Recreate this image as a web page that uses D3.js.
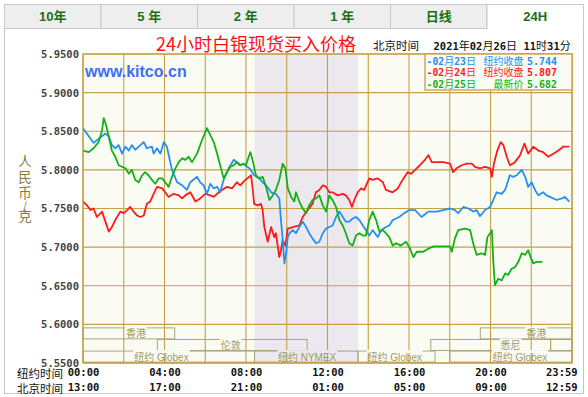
<!DOCTYPE html>
<html>
<head>
<meta charset="utf-8">
<script src="https://cdn.jsdelivr.net/npm/d3@7"></script>
<style>
  body { margin: 0; background: #fff; }
  svg text { white-space: pre; }
</style>
</head>
<body>
<div id="container"></div>
<script>
const tabs = ["10年", "5 年", "2 年", "1 年", "日线", "24H"];
const activeTab = "24H";
const title = "24小时白银现货买入价格";
const clockLabel = "北京时间";
const clockText = "2021年02月26日 11时31分";
const siteName = "www.kitco.cn";
const yTitle = ["人", "民", "币", "/", "克"];
const yTicks = [5.55, 5.6, 5.65, 5.7, 5.75, 5.8, 5.85, 5.9, 5.95];
const tickMinutes = [0, 240, 480, 720, 960, 1200, 1439];
const nyTimes = ["00:00", "04:00", "08:00", "12:00", "16:00", "20:00", "23:59"];
const bjTimes = ["13:00", "17:00", "21:00", "01:00", "05:00", "09:00", "12:59"];
const legendDates = ["-02月23日", "-02月24日", "-02月25日"];
const legendLabels = ["纽约收盘", "纽约收盘", "最新价"];
const legendValues = ["5.744", "5.807", "5.682"];
const nymexShade = [505, 810]; // minutes, NY time

// [minutes after 00:00 New York, price]
const feb23 = [[0,5.854],[31,5.835],[66,5.847],[76,5.843],[85,5.832],[95,5.828],[105,5.832],[115,5.821],[125,5.830],[135,5.825],[144,5.832],[154,5.826],[164,5.830],[179,5.836],[188,5.828],[203,5.830],[208,5.821],[218,5.828],[228,5.821],[238,5.836],[247,5.830],[262,5.800],[277,5.784],[292,5.780],[306,5.774],[316,5.784],[336,5.791],[345,5.784],[355,5.780],[365,5.769],[375,5.782],[385,5.776],[395,5.778],[404,5.771],[414,5.787],[429,5.802],[444,5.813],[453,5.810],[463,5.806],[473,5.808],[483,5.804],[490,5.802],[504,5.793],[519,5.789],[529,5.784],[539,5.780],[554,5.771],[568,5.769],[578,5.763],[583,5.735],[588,5.709],[593,5.679],[598,5.692],[603,5.713],[608,5.718],[618,5.722],[627,5.718],[637,5.726],[647,5.733],[657,5.726],[666,5.718],[676,5.711],[686,5.705],[696,5.707],[706,5.718],[716,5.724],[725,5.726],[735,5.728],[745,5.739],[755,5.746],[765,5.739],[774,5.733],[784,5.733],[794,5.737],[804,5.739],[814,5.735],[824,5.728],[833,5.722],[843,5.715],[853,5.722],[868,5.713],[878,5.722],[892,5.726],[902,5.728],[912,5.735],[922,5.737],[931,5.739],[946,5.744],[961,5.748],[978,5.748],[997,5.739],[1017,5.746],[1042,5.746],[1061,5.748],[1081,5.750],[1095,5.748],[1105,5.744],[1120,5.752],[1135,5.750],[1149,5.746],[1159,5.748],[1169,5.740],[1184,5.748],[1199,5.752],[1208,5.761],[1218,5.771],[1233,5.769],[1243,5.774],[1257,5.793],[1267,5.791],[1277,5.793],[1292,5.800],[1302,5.791],[1311,5.778],[1321,5.784],[1331,5.774],[1341,5.767],[1355,5.771],[1365,5.767],[1375,5.765],[1395,5.761],[1410,5.763],[1419,5.765],[1432,5.759]];
const feb24 = [[0,5.759],[12,5.754],[22,5.748],[31,5.750],[41,5.739],[56,5.746],[66,5.733],[76,5.720],[85,5.726],[95,5.735],[110,5.746],[120,5.744],[130,5.748],[139,5.752],[149,5.746],[159,5.741],[169,5.739],[179,5.741],[188,5.756],[198,5.759],[208,5.769],[218,5.778],[233,5.776],[242,5.771],[252,5.765],[267,5.769],[282,5.767],[292,5.763],[301,5.767],[316,5.771],[331,5.759],[345,5.763],[360,5.769],[375,5.767],[385,5.765],[400,5.771],[409,5.774],[424,5.778],[439,5.776],[453,5.784],[463,5.780],[478,5.787],[490,5.791],[495,5.793],[500,5.774],[504,5.756],[514,5.754],[524,5.756],[529,5.748],[534,5.726],[544,5.707],[554,5.726],[563,5.713],[568,5.718],[578,5.687],[583,5.696],[588,5.709],[596,5.702],[603,5.724],[618,5.726],[637,5.728],[647,5.739],[662,5.748],[676,5.756],[686,5.771],[696,5.774],[706,5.780],[716,5.778],[725,5.771],[735,5.771],[750,5.767],[765,5.769],[774,5.767],[784,5.761],[792,5.752],[799,5.761],[809,5.771],[819,5.776],[828,5.774],[843,5.789],[853,5.787],[868,5.789],[883,5.784],[892,5.774],[912,5.771],[927,5.776],[941,5.787],[956,5.797],[966,5.795],[978,5.800],[992,5.806],[1007,5.813],[1017,5.819],[1027,5.810],[1042,5.810],[1061,5.810],[1081,5.808],[1090,5.797],[1100,5.802],[1115,5.806],[1130,5.808],[1145,5.808],[1154,5.804],[1169,5.802],[1184,5.804],[1199,5.802],[1204,5.791],[1210,5.808],[1220,5.825],[1230,5.836],[1238,5.832],[1248,5.817],[1257,5.806],[1272,5.810],[1287,5.819],[1300,5.834],[1311,5.821],[1326,5.830],[1341,5.825],[1355,5.823],[1370,5.817],[1385,5.821],[1400,5.825],[1414,5.830],[1432,5.830]];
const feb25 = [[0,5.825],[17,5.823],[31,5.828],[46,5.836],[56,5.851],[61,5.867],[68,5.858],[76,5.843],[85,5.825],[95,5.817],[105,5.806],[115,5.804],[125,5.802],[135,5.795],[144,5.800],[154,5.787],[164,5.784],[174,5.793],[183,5.797],[193,5.793],[203,5.787],[213,5.782],[223,5.789],[233,5.789],[242,5.784],[252,5.778],[262,5.791],[272,5.802],[282,5.810],[292,5.815],[301,5.813],[311,5.817],[321,5.810],[336,5.821],[350,5.838],[365,5.854],[375,5.845],[385,5.836],[395,5.821],[404,5.806],[414,5.789],[424,5.797],[434,5.804],[444,5.806],[453,5.810],[463,5.806],[473,5.808],[480,5.806],[488,5.817],[493,5.823],[501,5.810],[509,5.793],[519,5.789],[529,5.791],[539,5.778],[549,5.761],[559,5.767],[568,5.774],[578,5.787],[588,5.808],[596,5.802],[603,5.776],[613,5.765],[622,5.759],[627,5.771],[637,5.759],[647,5.750],[657,5.744],[666,5.754],[676,5.761],[686,5.763],[696,5.767],[706,5.754],[716,5.746],[725,5.767],[735,5.761],[745,5.752],[755,5.735],[765,5.728],[774,5.718],[784,5.705],[794,5.702],[804,5.715],[814,5.718],[824,5.715],[833,5.715],[843,5.735],[853,5.746],[863,5.735],[873,5.720],[883,5.722],[892,5.718],[902,5.713],[912,5.702],[922,5.705],[936,5.702],[951,5.707],[961,5.700],[973,5.687],[983,5.694],[1002,5.694],[1017,5.698],[1032,5.701],[1081,5.701],[1086,5.694],[1095,5.711],[1105,5.722],[1125,5.724],[1140,5.722],[1149,5.705],[1159,5.690],[1174,5.692],[1184,5.690],[1191,5.713],[1199,5.718],[1204,5.722],[1208,5.683],[1213,5.651],[1223,5.659],[1233,5.657],[1243,5.666],[1252,5.664],[1262,5.672],[1272,5.674],[1282,5.681],[1292,5.692],[1302,5.690],[1311,5.696],[1318,5.687],[1326,5.679],[1336,5.681],[1353,5.681]];

const seriesData = [feb24, feb23, feb25];
const seriesColors = ["#ff1a1a", "#2590f2", "#14b014"];

// trading sessions: [name, row, start hour, end hour, label hour]
const sessions = [
  ["香港", 0, 0, 4.5, 2.6],
  ["香港", 0, 19.5, 24, 22.25],
  ["伦敦", 1, 3.65, 11.0, 7.25],
  ["悉尼", 1, 17.07, 22.95, 20.98],
  ["", 1, 22.95, 24, 0],
  ["纽约 Globex", 2, 0, 8.42, 3.85],
  ["纽约 NYMEX", 2, 8.42, 13.5, 11.0],
  ["纽约 Globex", 2, 13.5, 17.28, 15.3],
  ["纽约 Globex", 2, 18.0, 24, 21.45]
];

document.addEventListener("DOMContentLoaded", function () {
  const w = 588;
  const h = 397;
  const plot = { left: 83, right: 572, top: 54, bottom: 363 };
  const mono = '"DejaVu Sans Mono", monospace';
  const cjk = '"Noto Sans CJK SC", sans-serif';
  const gold = "#c4a046";
  const plotBg = "#fafcf4";
  const shadeBg = "#ebe8ee";

  const mixed = (sel, str, latinSize, cjkSize) => {
    (str.match(/[\x00-\x7f]+|[^\x00-\x7f]+/g) || []).forEach((run) => {
      const ascii = run.charCodeAt(0) < 128;
      sel
        .append("tspan")
        .text(run)
        .attr("font-family", ascii ? mono : cjk)
        .attr("font-weight", ascii ? "bold" : "normal")
        .attr("font-size", ascii ? latinSize : cjkSize);
    });
  };

  const svg = d3
    .select("#container")
    .append("svg")
    .attr("width", w)
    .attr("height", h);

  // panel + tabs
  svg
    .append("rect")
    .attr("x", 4.5)
    .attr("y", 28.5)
    .attr("width", 579)
    .attr("height", 365)
    .attr("fill", "#fff")
    .attr("stroke", "#c4c4c4");

  const tabScale = d3.scaleBand().domain(tabs).range([4.5, 583.5]);

  const tab = svg
    .append("g")
    .selectAll("g")
    .data(tabs)
    .enter()
    .append("g");

  tab
    .append("rect")
    .attr("x", (d) => tabScale(d))
    .attr("y", 4.5)
    .attr("width", tabScale.bandwidth())
    .attr("height", 24)
    .attr("fill", (d) => (d === activeTab ? "#fff" : "#eeeeee"))
    .attr("stroke", "#c8c8c8");

  tab
    .filter((d) => d === activeTab)
    .append("rect")
    .attr("x", (d) => tabScale(d) + 0.5)
    .attr("y", 27)
    .attr("width", tabScale.bandwidth() - 1)
    .attr("height", 3)
    .attr("fill", "#fff");

  tab
    .append("text")
    .attr("x", (d) => tabScale(d) + tabScale.bandwidth() / 2)
    .attr("y", 21)
    .attr("text-anchor", "middle")
    .attr("font-family", '"Liberation Sans", "Noto Sans CJK SC", sans-serif')
    .attr("font-weight", "bold")
    .attr("font-size", 13)
    .attr("fill", "#1c6e14")
    .text((d) => d);

  // scales
  const x = d3.scaleLinear().domain([0, 1440]).range([plot.left, plot.right]);
  const y = d3
    .scaleLinear()
    .domain([5.55, 5.95])
    .range([plot.bottom, plot.top]);

  // plot background and NYMEX shading
  svg
    .append("rect")
    .attr("x", plot.left)
    .attr("y", plot.top)
    .attr("width", plot.right - plot.left)
    .attr("height", plot.bottom - plot.top)
    .attr("fill", plotBg);

  svg
    .append("rect")
    .attr("x", x(nymexShade[0]))
    .attr("y", plot.top)
    .attr("width", x(nymexShade[1]) - x(nymexShade[0]))
    .attr("height", plot.bottom - plot.top)
    .attr("fill", shadeBg);

  // grid
  const grid = svg.append("g").attr("stroke", gold).attr("stroke-width", 1.1);

  grid
    .selectAll(".v")
    .data(d3.range(0, 1441, 120))
    .enter()
    .append("line")
    .attr("x1", (d) => x(d))
    .attr("x2", (d) => x(d))
    .attr("y1", plot.top)
    .attr("y2", plot.bottom);

  grid
    .selectAll(".h")
    .data(yTicks)
    .enter()
    .append("line")
    .attr("x1", plot.left)
    .attr("x2", plot.right)
    .attr("y1", (d) => y(d))
    .attr("y2", (d) => y(d));

  // trading session bars
  const rowTop = (r) => y(5.6) + 3.5 + r * 11.6;
  const sess = svg.append("g");

  sess
    .selectAll("rect")
    .data(sessions)
    .enter()
    .append("rect")
    .attr("x", (d) => x(d[2] * 60))
    .attr("y", (d) => rowTop(d[1]))
    .attr("width", (d) => x(d[3] * 60) - x(d[2] * 60))
    .attr("height", 11)
    .attr("fill", "none")
    .attr("stroke", "#aca67a");

  sessions
    .filter((d) => d[0] !== "")
    .forEach((d) => {
      const g = sess.append("g");
      const t = g
        .append("text")
        .attr("x", x(d[4] * 60))
        .attr("y", rowTop(d[1]) + 9.5)
        .attr("text-anchor", "middle")
        .attr("font-family", '"Liberation Sans", "Noto Sans CJK SC", sans-serif')
        .attr("font-size", 10)
        .attr("fill", "#a29a66")
        .text(d[0]);
      const len = t.node().getComputedTextLength();
      const inShade =
        d[4] * 60 > nymexShade[0] && d[4] * 60 < nymexShade[1];
      g.insert("rect", "text")
        .attr("x", x(d[4] * 60) - len / 2 - 1)
        .attr("y", rowTop(d[1]) - 1)
        .attr("width", len + 2)
        .attr("height", 3)
        .attr("fill", inShade ? shadeBg : plotBg);
    });

  // price lines
  svg
    .append("clipPath")
    .attr("id", "clip")
    .append("rect")
    .attr("x", plot.left)
    .attr("y", plot.top)
    .attr("width", plot.right - plot.left)
    .attr("height", plot.bottom - plot.top);

  const line = d3
    .line()
    .x((d) => x(d[0]))
    .y((d) => y(d[1]));

  svg
    .append("g")
    .attr("clip-path", "url(#clip)")
    .selectAll("path")
    .data(seriesData)
    .enter()
    .append("path")
    .attr("d", line)
    .attr("fill", "none")
    .attr("stroke", (d, i) => seriesColors[i])
    .attr("stroke-width", 1.8)
    .attr("stroke-linejoin", "round");

  // plot border
  svg
    .append("rect")
    .attr("x", plot.left)
    .attr("y", plot.top)
    .attr("width", plot.right - plot.left)
    .attr("height", plot.bottom - plot.top)
    .attr("fill", "none")
    .attr("stroke", gold)
    .attr("stroke-width", 1.3);

  // legend
  const legend = svg.append("g");
  legend
    .append("rect")
    .attr("x", 425)
    .attr("y", plot.top)
    .attr("width", plot.right - 425)
    .attr("height", 36)
    .attr("fill", plotBg)
    .attr("stroke", gold)
    .attr("stroke-width", 1.3);

  const legendColor = (i) => seriesColors[[1, 0, 2][i]];

  legendDates.forEach((d, i) => {
    const base = 64.5 + i * 11.6;
    const t1 = legend
      .append("text")
      .attr("x", 426.5)
      .attr("y", base)
      .attr("fill", legendColor(i));
    mixed(t1, d, 9.8, 10);
    legend
      .append("text")
      .attr("x", 523.5)
      .attr("y", base)
      .attr("text-anchor", "end")
      .attr("font-family", cjk)
      .attr("font-size", 10)
      .attr("fill", legendColor(i))
      .text(legendLabels[i]);
    legend
      .append("text")
      .attr("x", 527)
      .attr("y", base)
      .attr("font-family", mono)
      .attr("font-weight", "bold")
      .attr("font-size", 10)
      .attr("fill", legendColor(i))
      .text(legendValues[i]);
  });

  // title and clock
  svg
    .append("text")
    .attr("x", 156)
    .attr("y", 50.5)
    .attr("font-family", cjk)
    .attr("font-size", 18)
    .attr("fill", "#ff1010")
    .text(title);

  svg
    .append("text")
    .attr("x", 373)
    .attr("y", 50)
    .attr("font-family", cjk)
    .attr("font-size", 11.5)
    .attr("fill", "#111")
    .text(clockLabel);

  const clock = svg
    .append("text")
    .attr("x", 433.5)
    .attr("y", 50)
    .attr("fill", "#111");
  mixed(clock, clockText, 10.5, 11);

  svg
    .append("text")
    .attr("x", 85)
    .attr("y", 76.5)
    .attr("font-family", '"Liberation Sans", Arial, sans-serif')
    .attr("font-weight", "bold")
    .attr("font-size", 16)
    .attr("fill", "#3d6ff2")
    .text(siteName);

  // y axis
  svg
    .append("g")
    .attr("transform", `translate(${plot.left},0)`)
    .call(
      d3
        .axisLeft(y)
        .tickValues(yTicks)
        .tickSize(0)
        .tickPadding(4)
        .tickFormat(d3.format(".4f"))
    )
    .call((g) => g.select(".domain").remove())
    .selectAll("text")
    .attr("font-family", mono)
    .attr("font-weight", "bold")
    .attr("font-size", 10.5)
    .attr("fill", "#444");

  let ty = 161;
  yTitle.forEach((c) => {
    const small = c === "/";
    if (small) ty -= 5;
    svg
      .append("text")
      .attr("x", 25)
      .attr("y", ty + 4.6)
      .attr("text-anchor", "middle")
      .attr("font-family", cjk)
      .attr("font-size", small ? 11 : 13.5)
      .attr("fill", "#857c44")
      .text(c);
    ty += small ? 11 : 16.3;
  });

  // time axes
  const timeAxis = (labels, pad) =>
    svg
      .append("g")
      .attr("transform", `translate(0,${plot.bottom})`)
      .call(
        d3
          .axisBottom(x)
          .tickValues(tickMinutes)
          .tickSize(0)
          .tickPadding(pad)
          .tickFormat((d, i) => labels[i])
      )
      .call((g) => g.select(".domain").remove())
      .call((g) =>
        g
          .selectAll("text")
          .attr("font-family", mono)
          .attr("font-weight", "bold")
          .attr("font-size", 10.5)
          .attr("fill", "#111")
          .filter((d) => d === 1439)
          .attr("text-anchor", "end")
          .attr("dx", 5.5)
      );

  timeAxis(nyTimes, 6);
  timeAxis(bjTimes, 21);

  svg
    .append("text")
    .attr("x", 17)
    .attr("y", 377.5)
    .attr("font-family", cjk)
    .attr("font-size", 11.5)
    .attr("fill", "#111")
    .text("纽约时间");

  svg
    .append("text")
    .attr("x", 17)
    .attr("y", 392.5)
    .attr("font-family", cjk)
    .attr("font-size", 11.5)
    .attr("fill", "#111")
    .text("北京时间");
});
</script>
</body>
</html>
